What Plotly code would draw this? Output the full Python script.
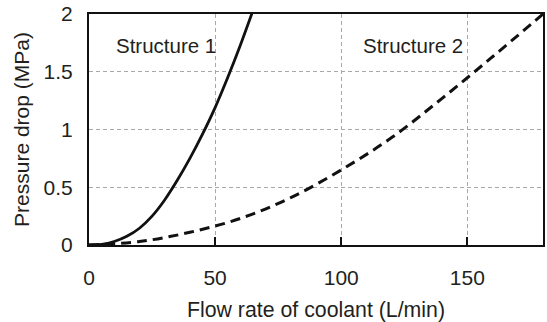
import plotly.graph_objects as go

# Pressure drop vs. coolant flow rate for the two cooling structures
flow_s1 = [0, 5, 10, 15, 20, 25, 30, 35, 40, 45, 50, 55, 60, 65]
drop_s1 = [0, 0.005, 0.03, 0.075, 0.145, 0.25, 0.39, 0.56, 0.75, 0.96, 1.19, 1.45, 1.73, 2.03]

flow_s2 = [0, 20, 40, 60, 80, 100, 120, 140, 160, 180]
drop_s2 = [0, 0.03, 0.11, 0.23, 0.41, 0.65, 0.93, 1.27, 1.63, 2.00]

x_ticks = [0, 50, 100, 150]
y_ticks = [0, 0.5, 1, 1.5, 2]
y_tick_text = ["0", "0.5", "1", "1.5", "2"]

labels = ["Structure 1", "Structure 2"]
label_x = [9.9, 107.8]
label_y = [1.727, 1.727]

FONT = "Liberation Sans, Arial, sans-serif"
TXT = "#231f20"

fig = go.Figure()
fig.add_trace(go.Scatter(
    x=flow_s1, y=drop_s1, mode="lines", line_shape="spline",
    line=dict(color="#111111", width=2.8), showlegend=False,
))
fig.add_trace(go.Scatter(
    x=flow_s2, y=drop_s2, mode="lines", line_shape="spline",
    line=dict(color="#111111", width=3, dash="10px,6px"), showlegend=False,
))

for txt, lx, ly in zip(labels, label_x, label_y):
    fig.add_annotation(x=lx, y=ly, text=txt, showarrow=False, xanchor="left",
                       yanchor="middle", font=dict(family=FONT, size=20.5, color=TXT))

fig.update_layout(
    width=547, height=322,
    margin=dict(l=89, r=2, t=14, b=77),
    paper_bgcolor="white", plot_bgcolor="white",
    font=dict(family=FONT, color=TXT),
)
fig.update_xaxes(
    range=[0, 180], tickvals=x_ticks, ticks="inside", ticklen=8, tickwidth=1.5,
    tickcolor="#111111", showline=True, linewidth=2.2, linecolor="#111111", mirror=True,
    showgrid=True, gridcolor="#a8a8a8", gridwidth=1, griddash="4px,3px",
    zeroline=False, tickfont=dict(size=21, color=TXT), ticklabelstandoff=13,
    title=dict(text="Flow rate of coolant (L/min)", font=dict(size=21.3, color=TXT), standoff=14),
)
fig.update_yaxes(
    range=[0, 2], tickvals=y_ticks, ticktext=y_tick_text, ticks="",
    showline=True, linewidth=2.2, linecolor="#111111", mirror=True,
    showgrid=True, gridcolor="#a8a8a8", gridwidth=1, griddash="4px,3px",
    zeroline=False, tickfont=dict(size=21, color=TXT), ticklabelstandoff=10,
    title=dict(text="Pressure drop (MPa)", font=dict(size=21, color=TXT), standoff=8),
)

fig.write_html("out.html")
